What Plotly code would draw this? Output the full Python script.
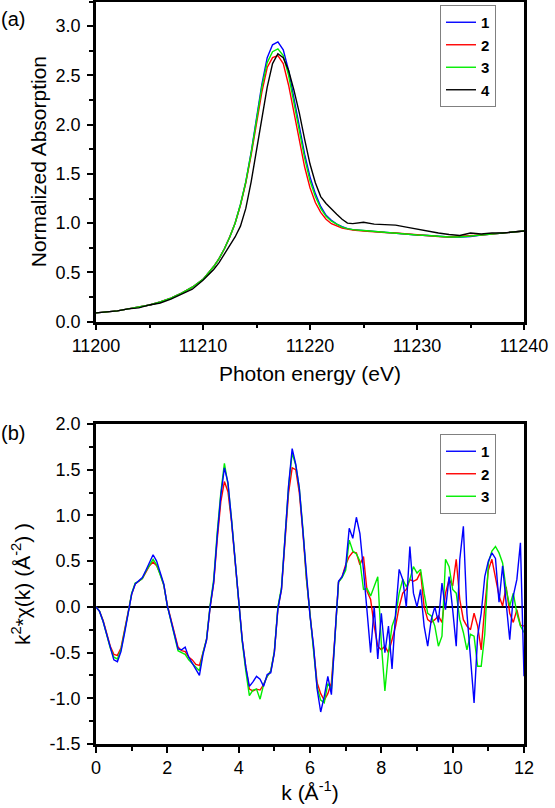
import plotly.graph_objects as go

# ---------------- data: panel (a) XANES ----------------
energy = [11200, 11201, 11202, 11203, 11204, 11205, 11206, 11207, 11208, 11209,
          11210, 11210.5, 11211, 11211.5, 11212, 11212.5, 11213, 11213.5, 11214, 11214.5,
          11215, 11215.5, 11216, 11216.5, 11217, 11217.5, 11218, 11218.5, 11219, 11219.5,
          11220, 11220.5, 11221, 11221.5, 11222, 11222.5, 11223, 11223.5, 11224,
          11225, 11226, 11227, 11228, 11229, 11230, 11231, 11232, 11233, 11234, 11235,
          11236, 11237, 11238, 11239, 11240]

abs_1 = [0.09, 0.10, 0.11, 0.13, 0.15, 0.17, 0.20, 0.24, 0.29, 0.35,
         0.43, 0.49, 0.56, 0.64, 0.74, 0.86, 1.00, 1.19, 1.42, 1.72,
         2.05, 2.41, 2.68, 2.81, 2.84, 2.76, 2.55, 2.27, 1.97, 1.70,
         1.47, 1.30, 1.17, 1.08, 1.03, 0.99, 0.965, 0.945, 0.935,
         0.925, 0.915, 0.905, 0.90, 0.89, 0.88, 0.875, 0.865, 0.86, 0.86, 0.865,
         0.88, 0.89, 0.90, 0.91, 0.92]
abs_2 = [0.09, 0.10, 0.11, 0.13, 0.15, 0.17, 0.20, 0.24, 0.29, 0.35,
         0.43, 0.49, 0.56, 0.64, 0.74, 0.86, 1.00, 1.18, 1.41, 1.69,
         2.00, 2.33, 2.58, 2.68, 2.70, 2.62, 2.40, 2.11, 1.82, 1.57,
         1.36, 1.21, 1.11, 1.04, 0.995, 0.97, 0.95, 0.94, 0.93,
         0.92, 0.91, 0.905, 0.90, 0.89, 0.88, 0.875, 0.865, 0.86, 0.865, 0.87,
         0.88, 0.89, 0.90, 0.91, 0.92]
abs_3 = [0.09, 0.10, 0.11, 0.13, 0.15, 0.17, 0.20, 0.24, 0.29, 0.35,
         0.43, 0.49, 0.56, 0.64, 0.74, 0.86, 1.00, 1.19, 1.42, 1.71,
         2.03, 2.38, 2.63, 2.74, 2.77, 2.70, 2.50, 2.22, 1.93, 1.66,
         1.43, 1.27, 1.15, 1.07, 1.02, 0.99, 0.96, 0.945, 0.935,
         0.925, 0.915, 0.905, 0.90, 0.89, 0.88, 0.875, 0.865, 0.86, 0.86, 0.87,
         0.88, 0.89, 0.90, 0.91, 0.92]
abs_4 = [0.09, 0.10, 0.11, 0.13, 0.14, 0.17, 0.19, 0.23, 0.28, 0.33,
         0.42, 0.47, 0.53, 0.60, 0.69, 0.77, 0.86, 0.97, 1.15, 1.42,
         1.74, 2.05, 2.38, 2.62, 2.72, 2.68, 2.55, 2.35, 2.12, 1.85,
         1.60, 1.41, 1.27, 1.20, 1.14, 1.09, 1.04, 1.00, 0.995,
         1.01, 0.99, 0.985, 0.98, 0.96, 0.94, 0.915, 0.90, 0.885, 0.875, 0.90,
         0.89, 0.90, 0.90, 0.91, 0.92]

# ---------------- data: panel (b) EXAFS ----------------
k_vals = [round(0.1 * i, 1) for i in range(121)]

chi_1 = [0.00, -0.05, -0.16, -0.31, -0.46, -0.58, -0.60, -0.49, -0.29, -0.07,
         0.14, 0.25, 0.28, 0.32, 0.40, 0.49, 0.57, 0.50, 0.38, 0.25,
         0.01, -0.15, -0.33, -0.46, -0.47, -0.44, -0.55, -0.62, -0.68, -0.75,
         -0.52, -0.36, 0.00, 0.27, 0.78, 1.22, 1.52, 1.36, 0.95, 0.52,
         0.04, -0.36, -0.66, -0.87, -0.82, -0.76, -0.79, -0.87, -0.74, -0.72,
         -0.50, -0.02, 0.19, 0.74, 1.33, 1.73, 1.56, 1.30, 0.84, 0.30,
         -0.10, -0.43, -0.90, -1.15, -0.98, -0.76, -0.96, -0.32, 0.28, 0.33,
         0.44, 0.86, 0.75, 0.98, 0.80, 0.40, -0.07, -0.50, 0.00, -0.57,
         -0.07, -0.50, -0.21, -0.68, -0.07, 0.41, 0.30, 0.00, 0.66, 0.15,
         0.00, 0.19, -0.21, -0.43, -0.14, 0.00, -0.17, 0.26, -0.03, 0.33,
         -0.03, -0.43, 0.52, 0.88, -0.07, -0.60, -1.05, -0.32, -0.07, 0.33,
         0.50, 0.59, 0.53, 0.05, 0.45, 0.04, -0.36, 0.12, 0.30, 0.70,
         -0.76]
chi_2 = [0.00, -0.05, -0.15, -0.29, -0.43, -0.52, -0.53, -0.45, -0.27, -0.06,
         0.14, 0.25, 0.28, 0.31, 0.38, 0.45, 0.49, 0.45, 0.36, 0.24,
         0.02, -0.14, -0.31, -0.44, -0.48, -0.49, -0.55, -0.58, -0.63, -0.64,
         -0.50, -0.36, 0.00, 0.26, 0.74, 1.15, 1.37, 1.26, 0.93, 0.51,
         0.04, -0.36, -0.66, -0.90, -0.92, -0.90, -0.91, -0.85, -0.76, -0.70,
         -0.50, -0.02, 0.19, 0.72, 1.25, 1.52, 1.50, 1.25, 0.82, 0.30,
         -0.10, -0.43, -0.83, -0.95, -1.02, -0.95, -0.83, -0.32, 0.27, 0.33,
         0.46, 0.55, 0.60, 0.59, 0.46, 0.55, 0.17, 0.08, -0.21, -0.43,
         -0.47, -0.43, -0.50, -0.36, -0.21, 0.00, 0.15, 0.19, 0.30, 0.28,
         0.30, 0.38, 0.00, -0.14, -0.17, -0.14, -0.10, -0.17, 0.15, 0.30,
         0.23, 0.52, 0.08, -0.14, -0.21, -0.25, -0.07, -0.21, -0.47, 0.00,
         0.40, 0.52, 0.33, 0.12, 0.01, 0.22, -0.07, -0.17, -0.03, -0.20,
         -0.21]
chi_3 = [0.00, -0.05, -0.16, -0.30, -0.45, -0.55, -0.57, -0.47, -0.28, -0.07,
         0.15, 0.26, 0.28, 0.31, 0.39, 0.46, 0.52, 0.46, 0.36, 0.24,
         0.01, -0.15, -0.33, -0.48, -0.50, -0.52, -0.58, -0.62, -0.66, -0.70,
         -0.50, -0.35, 0.02, 0.30, 0.82, 1.25, 1.57, 1.34, 0.96, 0.52,
         0.04, -0.38, -0.70, -0.97, -0.91, -0.90, -1.01, -0.85, -0.76, -0.70,
         -0.49, 0.00, 0.21, 0.76, 1.32, 1.68, 1.55, 1.30, 0.86, 0.32,
         -0.09, -0.44, -0.88, -1.02, -1.05, -0.84, -0.90, -0.34, 0.27, 0.32,
         0.40, 0.73, 0.61, 0.58, 0.50, 0.19, 0.20, 0.12, 0.23, 0.33,
         -0.40, -0.92, -0.50, -0.21, -0.10, 0.15, 0.30, 0.22, 0.30, 0.44,
         0.37, 0.41, 0.15, -0.07, -0.10, -0.21, -0.43, -0.32, 0.52, 0.44,
         0.19, 0.15, -0.14, -0.28, -0.47, -0.30, -0.32, -0.65, -0.65, -0.30,
         0.48, 0.61, 0.66, 0.59, 0.48, 0.19, 0.01, 0.15, -0.07, -0.21,
         -0.28]

names_a = ["1", "2", "3", "4"]
names_b = ["1", "2", "3"]
colors = {"1": "#0000FF", "2": "#FF0000", "3": "#00EE00", "4": "#000000"}

ya_ticks = [0.0, 0.5, 1.0, 1.5, 2.0, 2.5, 3.0]
yb_ticks = [-1.5, -1.0, -0.5, 0.0, 0.5, 1.0, 1.5, 2.0]
yb_labels = ["-1.5", "-1.0", "-0.5", "0.0", "0.5", "1.0", "1.5", "2.0"]

# ---------------- layout geometry (pixels) ----------------
W, H = 555, 808
ML, MR, MT, MB = 96, 31, 1, 64
PH = H - MT - MB


def py(pix):
    """pixel row -> paper fraction"""
    return (H - MB - pix) / PH


def px(pix):
    return (pix - ML) / (W - ML - MR)


FONT = "Arial, Liberation Sans, Helvetica, sans-serif"

fig = go.Figure()

series_a = {"1": abs_1, "2": abs_2, "3": abs_3, "4": abs_4}
for n in names_a:
    fig.add_trace(go.Scatter(x=energy, y=series_a[n], name=n, mode="lines",
                             line=dict(color=colors[n], width=1.4),
                             xaxis="x", yaxis="y", legend="legend"))

series_b = {"1": chi_1, "2": chi_2, "3": chi_3}
for n, rank in [("2", 2), ("3", 3), ("1", 1)]:
    fig.add_trace(go.Scatter(x=k_vals, y=series_b[n], name=n, mode="lines",
                             line=dict(color=colors[n], width=1.4),
                             xaxis="x2", yaxis="y2", legend="legend2",
                             legendrank=rank))

axis_common = dict(
    showline=True, linecolor="black", linewidth=2.5, mirror=True,
    ticks="outside", ticklen=6, tickwidth=2, tickcolor="black",
    showgrid=False, zeroline=False, automargin=False,
    tickfont=dict(family=FONT, size=18, color="black"),
)
minor_common = dict(ticks="outside", ticklen=4, tickwidth=2,
                    tickcolor="black", showgrid=False)
title_font = dict(family=FONT, size=21, color="black")
legend_common = dict(xanchor="right", yanchor="top",
                     bgcolor="white", bordercolor="#808080", borderwidth=1,
                     font=dict(family=FONT, size=15, color="black", weight="bold"),
                     tracegroupgap=0, itemwidth=30)

fig.update_layout(
    width=W, height=H,
    margin=dict(l=ML, r=MR, t=MT, b=MB, autoexpand=False),
    paper_bgcolor="white", plot_bgcolor="white",
    font=dict(family=FONT, color="black"),
    xaxis=dict(axis_common, domain=[0, 1], anchor="y", range=[11200, 11240],
               tickmode="linear", tick0=11200, dtick=10, tickformat="d",
               minor=dict(minor_common, dtick=5),
               title=dict(text="Photon energy (eV)", standoff=12, font=title_font)),
    yaxis=dict(axis_common, domain=[py(321.7), py(1.5)], anchor="x",
               range=[0, 3.25], tickvals=ya_ticks, tickformat=".1f",
               ticklabelstandoff=3,
               minor=dict(minor_common, dtick=0.25, tick0=0),
               title=dict(text="Normalized Absorption", standoff=4, font=title_font)),
    xaxis2=dict(axis_common, domain=[0, 1], anchor="y2", range=[0, 12],
                tickmode="linear", tick0=0, dtick=2,
                minor=dict(minor_common, dtick=1),
                title=dict(text="k (Å<sup>-1</sup>)", standoff=7, font=title_font)),
    yaxis2=dict(axis_common, domain=[0, py(424)], anchor="x2",
                range=[-1.5, 2.0], tickvals=yb_ticks, ticktext=yb_labels,
                ticklabelstandoff=3,
                zeroline=True, zerolinecolor="black", zerolinewidth=2,
                minor=dict(minor_common, dtick=0.25, tick0=0),
                title=dict(text="k<sup>2</sup>*χ(k) (Å<sup>-2</sup>) )", standoff=14,
                           font=title_font)),
    legend=dict(legend_common, x=px(496), y=py(5)),
    legend2=dict(legend_common, x=px(496), y=py(434)),
    annotations=[
        dict(text="(a)", x=px(13), y=py(18.5), xref="paper", yref="paper",
             xanchor="center", yanchor="middle", showarrow=False,
             font=dict(family=FONT, size=20, color="black")),
        dict(text="(b)", x=px(13), y=py(433), xref="paper", yref="paper",
             xanchor="center", yanchor="middle", showarrow=False,
             font=dict(family=FONT, size=20, color="black")),
    ],
    showlegend=True,
)

fig.write_html("out.html",
               config={"displayModeBar": False},
               post_script="document.body.style.margin='0px';"
                           "document.documentElement.style.margin='0px';")
